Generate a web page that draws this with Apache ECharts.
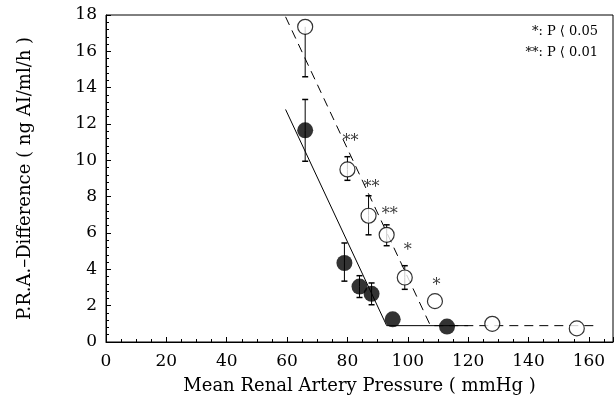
<!DOCTYPE html>
<html>
<head>
<meta charset="utf-8">
<script src="https://cdn.jsdelivr.net/npm/echarts@6/dist/echarts.min.js"></script>
<style>
  html, body { margin: 0; padding: 0; background: #fff; }
  #chart { width: 615px; height: 404px; }
</style>
</head>
<body>
<div id="chart"></div>
<script>
(function() {
  // --- data ---
  // open circles (dashed fit)
  var openX = [66, 80, 87, 93, 99, 109, 128, 156];
  var openY = [17.35, 9.5, 6.95, 5.9, 3.55, 2.25, 1.0, 0.75];
  var openHi = [null, 10.2, 8.05, 6.45, 4.2, null, null, null];
  var openLo = [14.6, 8.9, 5.9, 5.3, 2.9, null, null, null];

  // filled circles (solid fit)
  var fillX = [66, 79, 84, 88, 95, 113];
  var fillY = [11.65, 4.35, 3.05, 2.65, 1.25, 0.85];
  var fillHi = [13.35, 5.45, 3.65, 3.25, null, null];
  var fillLo = [9.95, 3.35, 2.45, 2.05, null, null];

  // fitted lines
  var solidX = [59.5, 93, 120];
  var solidY = [12.8, 0.9, 0.9];
  var dashX = [59.5, 107.5, 163];
  var dashY = [17.9, 0.9, 0.9];

  // significance marks
  var starX = [81, 88, 94, 100, 109.5];
  var starY = [11.0, 8.5, 7.0, 5.0, 3.1];
  var starText = ['**', '**', '**', '*', '*'];

  var legendLines = ['*: P \u27e8 0.05', '**: P \u27e8 0.01'];

  var serif = 'DejaVu Serif';

  function pairs(xs, ys) {
    return xs.map(function(x, i) { return [x, ys[i]]; });
  }

  function errData(xs, ys, hi, lo) {
    var out = [];
    xs.forEach(function(x, i) {
      if (hi[i] != null) out.push([x, ys[i], hi[i]]);
      if (lo[i] != null) out.push([x, ys[i], lo[i]]);
    });
    return out;
  }

  function renderErr(params, api) {
    var c = api.coord([api.value(0), api.value(1)]);
    var e = api.coord([api.value(0), api.value(2)]);
    return {
      type: 'group',
      children: [
        { type: 'line', shape: { x1: c[0], y1: c[1], x2: e[0], y2: e[1] },
          style: { stroke: '#000', lineWidth: 1 } },
        { type: 'line', shape: { x1: e[0] - 3, y1: e[1], x2: e[0] + 3, y2: e[1] },
          style: { stroke: '#000', lineWidth: 1.5 } }
      ]
    };
  }

  var chart = echarts.init(document.getElementById('chart'), null, { renderer: 'canvas' });
  chart.setOption({
    animation: false,
    backgroundColor: '#fff',
    textStyle: { fontFamily: serif, color: '#000' },
    grid: {
      left: 106, right: 2, top: 15, bottom: 62,
      show: true, borderColor: '#000', borderWidth: 1, backgroundColor: 'transparent'
    },
    xAxis: {
      type: 'value',
      min: 0, max: 168, interval: 20,
      name: 'Mean Renal Artery Pressure ( mmHg )',
      nameLocation: 'middle', nameGap: 35,
      nameTextStyle: { fontFamily: serif, fontSize: 18, color: '#000' },
      axisLine: { lineStyle: { color: '#000', width: 1 } },
      axisTick: { inside: true, length: 5, lineStyle: { color: '#000' } },
      minorTick: { show: true, splitNumber: 4, length: 3, lineStyle: { color: '#000' } },
      axisLabel: { fontFamily: serif, fontSize: 17, color: '#000', margin: 11, showMaxLabel: false },
      splitLine: { show: false }
    },
    yAxis: {
      type: 'value',
      min: 0, max: 18, interval: 2,
      name: 'P.R.A.\u2013Difference ( ng AI/ml/h )',
      nameLocation: 'middle', nameGap: 72, nameRotate: 90,
      nameTextStyle: { fontFamily: serif, fontSize: 18, color: '#000' },
      axisLine: { show: true, lineStyle: { color: '#000', width: 1 } },
      axisTick: { show: true, inside: true, length: 5, lineStyle: { color: '#000' } },
      minorTick: { show: true, splitNumber: 5, length: 3, lineStyle: { color: '#000' } },
      axisLabel: { fontFamily: serif, fontSize: 17, color: '#000', margin: 9 },
      splitLine: { show: false }
    },
    graphic: legendLines.map(function(t, i) {
      return {
        type: 'text', right: 17, top: 25 + i * 21,
        style: { text: t, fontFamily: serif, fontSize: 13, fill: '#000' }
      };
    }),
    series: [
      {
        type: 'line', data: pairs(solidX, solidY), symbol: 'none',
        lineStyle: { color: '#000', width: 1 }, z: 2
      },
      {
        type: 'line', data: pairs(dashX, dashY), symbol: 'none',
        lineStyle: { color: '#000', width: 1, type: [9, 6] }, z: 2
      },
      {
        type: 'custom', renderItem: renderErr,
        data: errData(openX, openY, openHi, openLo), z: 3
      },
      {
        type: 'custom', renderItem: renderErr,
        data: errData(fillX, fillY, fillHi, fillLo), z: 3
      },
      {
        type: 'scatter', data: pairs(openX, openY), symbol: 'circle', symbolSize: 15,
        itemStyle: { color: '#fff', borderColor: '#000', borderWidth: 1.2 }, z: 4
      },
      {
        type: 'scatter', data: pairs(fillX, fillY), symbol: 'circle', symbolSize: 16,
        itemStyle: { color: '#000' }, z: 4
      },
      {
        type: 'scatter', data: pairs(starX, starY), symbolSize: 0, z: 5,
        label: {
          show: true, position: 'inside',
          formatter: function(p) { return starText[p.dataIndex]; },
          fontFamily: serif, fontSize: 16, color: '#000'
        }
      }
    ]
  });
})();
</script>
</body>
</html>
